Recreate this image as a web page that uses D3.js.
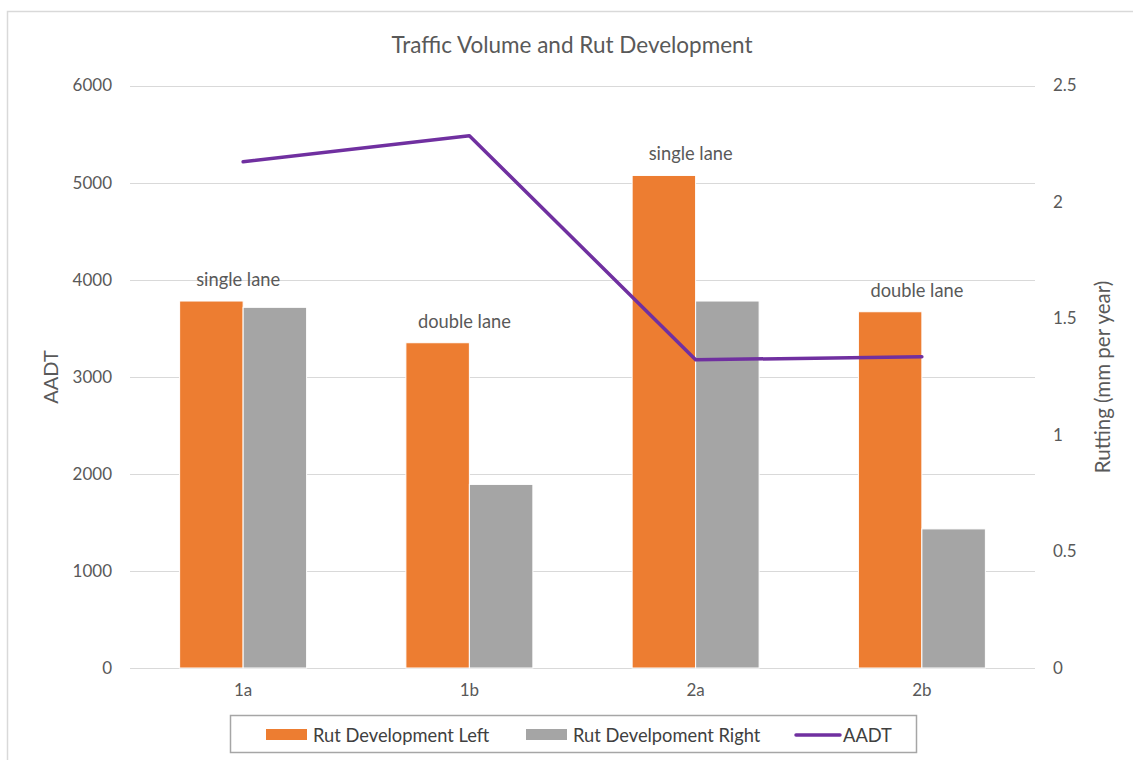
<!DOCTYPE html>
<html>
<head>
<meta charset="utf-8">
<script src="https://cdn.jsdelivr.net/npm/d3@7"></script>
<style>
  html, body { margin: 0; padding: 0; background: #fff; }
  svg { display: block; font-family: Lato, "Open Sans", sans-serif; }
</style>
</head>
<body>
<svg id="chart" width="1133" height="760"></svg>
<script>
// chart data
const categories = ['1a', '1b', '2a', '2b'];
const rutLeft = [1.575, 1.396, 2.114, 1.529];
const rutRight = [1.548, 0.788, 1.575, 0.597];
const aadt = [5214, 5482, 3175, 3206];
const laneLabels = ['single lane', 'double lane', 'single lane', 'double lane'];
const aadtTicks = [0, 1000, 2000, 3000, 4000, 5000, 6000];
const rutTicks = [0, 0.5, 1, 1.5, 2, 2.5];
const seriesNames = ['Rut Development Left', 'Rut Develpoment Right', 'AADT'];

const colors = { left: '#ED7D31', right: '#A5A5A5', line: '#7030A0' };
const textColor = '#595959';

const svg = d3.select('#chart');

// outer chart border
svg.append('rect')
  .attr('x', 7.5).attr('y', 11.5)
  .attr('width', 1140).attr('height', 760)
  .attr('fill', 'none')
  .attr('stroke', '#d9d9d9')
  .attr('stroke-width', 1.5);

const plot = { left: 130, right: 1035, top: 85.5, bottom: 668 };

const x = d3.scaleBand()
  .domain(categories)
  .range([plot.left, plot.right])
  .paddingInner(0.4387)
  .paddingOuter(0.4387 / 2);

const xSub = d3.scaleBand()
  .domain(['left', 'right'])
  .range([0, x.bandwidth()]);

const yLeft = d3.scaleLinear().domain([0, 6000]).range([plot.bottom, plot.top]);
const yRight = d3.scaleLinear().domain([0, 2.5]).range([plot.bottom, plot.top]);

// gridlines
svg.append('g')
  .selectAll('line')
  .data(aadtTicks)
  .enter()
  .append('line')
  .attr('x1', plot.left).attr('x2', plot.right)
  .attr('y1', (d) => Math.round(yLeft(d)) + 0.5)
  .attr('y2', (d) => Math.round(yLeft(d)) + 0.5)
  .attr('stroke', '#d9d9d9')
  .attr('stroke-width', 1);

// left axis
const leftAxis = svg.append('g')
  .attr('transform', `translate(${plot.left},0)`)
  .call(d3.axisLeft(yLeft).tickValues(aadtTicks).tickSize(0).tickPadding(18).tickFormat(d3.format('d')));
leftAxis.select('.domain').remove();
leftAxis.selectAll('text')
  .attr('fill', textColor)
  .attr('font-size', 17)
  .attr('font-family', 'Lato, sans-serif');

// right axis
const rightAxis = svg.append('g')
  .attr('transform', `translate(${plot.right},0)`)
  .call(d3.axisRight(yRight).tickValues(rutTicks).tickSize(0).tickPadding(18).tickFormat((d) => String(d)));
rightAxis.select('.domain').remove();
rightAxis.selectAll('text')
  .attr('fill', textColor)
  .attr('font-size', 17)
  .attr('font-family', 'Lato, sans-serif');

// category axis
const bottomAxis = svg.append('g')
  .attr('transform', `translate(0,${plot.bottom})`)
  .call(d3.axisBottom(x).tickSize(0).tickPadding(16));
bottomAxis.select('.domain').remove();
bottomAxis.selectAll('text')
  .attr('fill', textColor)
  .attr('font-size', 17)
  .attr('font-family', 'Lato, sans-serif');

// bars
const rows = categories.map((c, i) => ({
  cat: c,
  left: rutLeft[i],
  right: rutRight[i],
  aadt: aadt[i],
  label: laneLabels[i],
}));

const groups = svg.append('g')
  .selectAll('g.group')
  .data(rows)
  .enter()
  .append('g')
  .attr('class', 'group')
  .attr('transform', (d) => `translate(${x(d.cat)},0)`);

groups.selectAll('rect')
  .data((d) => [{ key: 'left', v: d.left }, { key: 'right', v: d.right }])
  .enter()
  .append('rect')
  .attr('x', (d) => xSub(d.key))
  .attr('y', (d) => yRight(d.v))
  .attr('width', xSub.bandwidth())
  .attr('height', (d) => yRight(0) - yRight(d.v))
  .attr('fill', (d) => colors[d.key])
  .attr('stroke', '#fff')
  .attr('stroke-width', 1);

// lane labels above the orange bars
groups.append('text')
  .attr('x', x.bandwidth() / 2 - 5)
  .attr('y', (d) => yRight(d.left) - 22)
  .attr('text-anchor', 'middle')
  .attr('dominant-baseline', 'central')
  .attr('fill', '#595959')
  .attr('font-size', 18.3)
  .text((d) => d.label);

// AADT line
const line = d3.line()
  .x((d) => x(d.cat) + x.bandwidth() / 2)
  .y((d) => yLeft(d.aadt));

svg.append('path')
  .datum(rows)
  .attr('d', line)
  .attr('fill', 'none')
  .attr('stroke', colors.line)
  .attr('stroke-width', 3.5)
  .attr('stroke-linecap', 'round')
  .attr('stroke-linejoin', 'round');

// title
svg.append('text')
  .attr('x', 572)
  .attr('y', 44)
  .attr('text-anchor', 'middle')
  .attr('dominant-baseline', 'central')
  .attr('fill', textColor)
  .attr('font-size', 22.5)
  .text('Traffic Volume and Rut Development');

// axis titles
svg.append('text')
  .attr('transform', 'translate(50,377) rotate(-90)')
  .attr('text-anchor', 'middle')
  .attr('dominant-baseline', 'central')
  .attr('fill', textColor)
  .attr('font-size', 20)
  .text('AADT');

svg.append('text')
  .attr('transform', 'translate(1102,377) rotate(-90)')
  .attr('text-anchor', 'middle')
  .attr('dominant-baseline', 'central')
  .attr('fill', textColor)
  .attr('font-size', 20.5)
  .text('Rutting (mm per year)');

// legend
const legend = svg.append('g');
legend.append('rect')
  .attr('x', 230.5).attr('y', 715.5)
  .attr('width', 686).attr('height', 37)
  .attr('fill', '#fff')
  .attr('stroke', '#a6a6a6')
  .attr('stroke-width', 1.5);

const legendItems = [
  { name: seriesNames[0], type: 'rect', color: colors.left, x: 266, tx: 313 },
  { name: seriesNames[1], type: 'rect', color: colors.right, x: 526, tx: 573 },
  { name: seriesNames[2], type: 'line', color: colors.line, x: 796, tx: 843 },
];

const item = legend.selectAll('g.item')
  .data(legendItems)
  .enter()
  .append('g')
  .attr('class', 'item');

item.filter((d) => d.type === 'rect')
  .append('rect')
  .attr('x', (d) => d.x)
  .attr('y', 729)
  .attr('width', 41)
  .attr('height', 11)
  .attr('fill', (d) => d.color);

item.filter((d) => d.type === 'line')
  .append('line')
  .attr('x1', (d) => d.x).attr('x2', (d) => d.x + 44)
  .attr('y1', 735).attr('y2', 735)
  .attr('stroke', (d) => d.color)
  .attr('stroke-width', 3.5)
  .attr('stroke-linecap', 'round');

item.append('text')
  .attr('x', (d) => d.tx)
  .attr('y', 735)
  .attr('dominant-baseline', 'central')
  .attr('fill', '#404040')
  .attr('font-size', 18.3)
  .text((d) => d.name);
</script>
</body>
</html>
